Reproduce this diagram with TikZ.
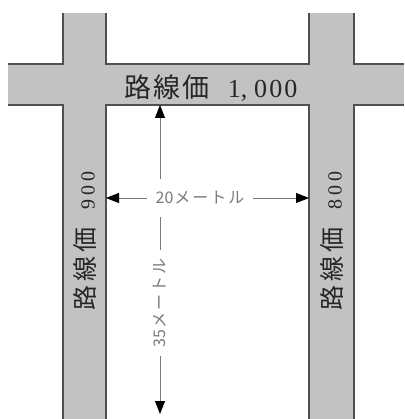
\documentclass[tikz,border=0pt]{standalone}
\usepackage{fontspec}
\newfontfamily\jp{Noto Sans CJK JP}
\newfontfamily\num{Liberation Serif}
\usetikzlibrary{arrows.meta}
\definecolor{road}{HTML}{C2C2C2}
\definecolor{edge}{HTML}{505050}
\definecolor{dim}{HTML}{7A7A7A}
\definecolor{dimtext}{HTML}{7A7A7A}
\begin{document}
\begin{tikzpicture}[x=1pt,y=-1pt,
  roadfill/.style={fill=road,draw=none},
  roadedge/.style={draw=edge,line width=1.1pt},
  tipend/.style={-{Triangle[length=13pt,width=10pt,color=black]},draw=dim,line width=0.8pt},
  bigname/.style={inner sep=0pt,text=black!85},
  dimlabel/.style={fill=white,inner sep=0pt,text=dimtext,font=\jp\fontsize{16}{16}\selectfont}
]
\useasboundingbox (0,0) rectangle (404,419);
% roads
\fill[roadfill] (8,64) rectangle (404,105);
\fill[roadfill] (63,13) rectangle (106,419);
\fill[roadfill] (309,13) rectangle (354,419);
% road edges
\draw[roadedge] (8,64) -- (63,64) -- (63,13);
\draw[roadedge] (106,13) -- (106,64) -- (309,64) -- (309,13);
\draw[roadedge] (354,13) -- (354,64) -- (404,64);
\draw[roadedge] (8,105) -- (63,105) -- (63,419);
\draw[roadedge] (106,419) -- (106,105) -- (309,105) -- (309,419);
\draw[roadedge] (354,419) -- (354,105) -- (404,105);
% road labels
\node[bigname] (top) at (211,88)
  {{\jp\fontsize{27}{27}\selectfont 路\kern2pt 線\kern2pt 価}\hspace{18pt}{\num\fontsize{26}{26}\selectfont 1,\kern7pt 0\kern2pt 0\kern2pt 0}};
\node[bigname,rotate=90] (left) at (85,241)
  {{\jp\fontsize{25}{25}\selectfont 路\kern4pt 線\kern4pt 価}\hspace{18pt}{\num\fontsize{20}{20}\selectfont 9\kern4pt 0\kern4pt 0}};
\node[bigname,rotate=90] (right) at (332,241)
  {{\jp\fontsize{25}{25}\selectfont 路\kern4pt 線\kern4pt 価}\hspace{18pt}{\num\fontsize{20}{20}\selectfont 8\kern4pt 0\kern4pt 0}};
% dimension coordinates
\coordinate (vtop) at (160,105);
\coordinate (vbot) at (160,414);
\coordinate (hl) at (106,198);
\coordinate (hr) at (309,198);
\coordinate (vmid) at (160,303);
\coordinate (hmid) at (200,198);
% dimension lines
\draw[tipend] (vmid) -- (vtop);
\draw[tipend] (vmid) -- (vbot);
\draw[tipend] (hmid) -- (hl);
\draw[tipend] (hmid) -- (hr);
\node[dimlabel,minimum width=106pt,minimum height=38pt] (hlab) at (hmid) {20\kern1pt メ\kern2pt ー\kern2pt ト\kern2pt ル};
\node[dimlabel,rotate=90,minimum width=106pt,minimum height=14pt] (vlab) at (vmid) {35\kern1pt メ\kern2pt ー\kern2pt ト\kern2pt ル};
\end{tikzpicture}
\end{document}
